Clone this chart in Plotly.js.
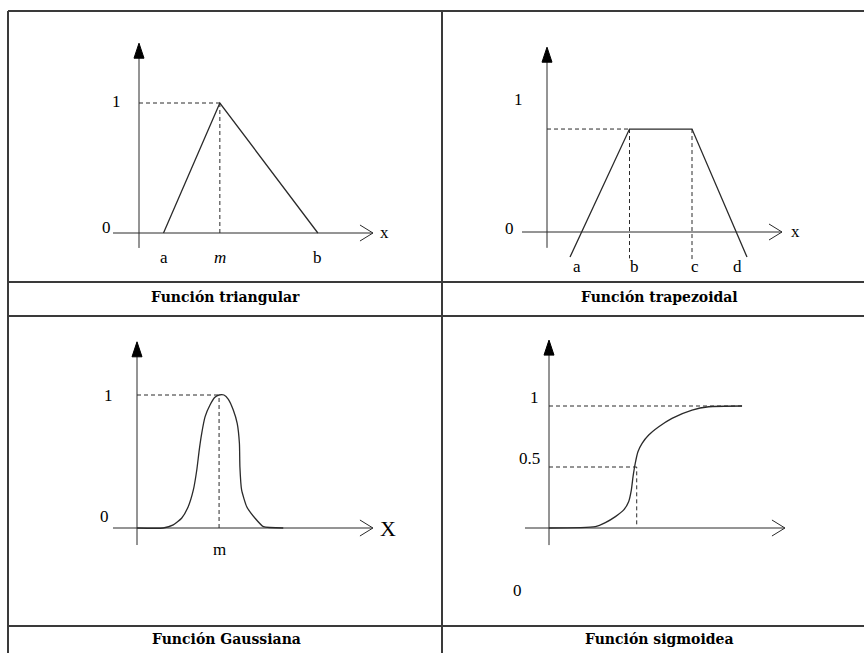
<!DOCTYPE html>
<html><head><meta charset="utf-8">
<script src="https://cdn.plot.ly/plotly-3.0.1.min.js"></script>
<style>html,body{margin:0;padding:0;background:#fff}#chart{width:864px;height:653px}</style>
</head><body><div id="chart"></div>
<script>
// ---------- data ----------
const triX = [1, 3.3, 7.3];            // a, m, b
const triY = [0, 1, 0];
const triLabels = ['a', '<i>m</i>', 'b'];

const trapX = [0.92, 3.3, 5.8, 8.0];
const trapY = [-0.19, 0.78, 0.78, -0.19];
const trapTickX = [1.2, 3.5, 5.9, 7.6];
const trapLabels = ['a', 'b', 'c', 'd'];

const gaussX = [0, 1.07, 1.48, 1.82, 2.09, 2.30, 2.44, 2.54, 2.64, 2.78, 2.98, 3.18, 3.35, 3.55, 3.73, 3.93, 4.09, 4.18, 4.20, 4.27, 4.48, 4.82, 5.16, 5.97];
const gaussY = [0, 0, 0.023, 0.073, 0.16, 0.286, 0.436, 0.586, 0.71, 0.837, 0.925, 0.983, 1.0, 1.0, 0.968, 0.887, 0.787, 0.637, 0.461, 0.286, 0.16, 0.073, 0.01, 0];
const gaussPeakX = 3.35;

const sigX = [0, 1.89, 2.30, 2.71, 3.05, 3.25, 3.36, 3.43, 3.52, 3.63, 3.80, 4.07, 4.48, 5.02, 5.84, 6.52, 7.88];
const sigY = [0, 0.011, 0.044, 0.093, 0.148, 0.216, 0.311, 0.421, 0.530, 0.625, 0.694, 0.762, 0.830, 0.899, 0.967, 0.994, 1.0];
const sigMidX = 3.58;
const sigMidY = 0.5;

const titles = ['Función triangular', 'Función trapezoidal', 'Función Gaussiana', 'Función sigmoidea'];

// ---------- layout geometry ----------
const W = 864, H = 653;
const panels = [
  {ox:139, oy:233, ux:24.5, uy:130, px0:8,   px1:442, py0:11,  py1:282, ax:[-1.06, 9.55], ay:[-0.115, 1.46]},
  {ox:547, oy:232, ux:25,   uy:132, px0:442, px1:864, py0:11,  py1:282, ax:[-1.0, 9.4],   ay:[-0.12, 1.40]},
  {ox:137, oy:528, ux:24.5, uy:133, px0:8,   px1:442, py0:316, py1:626, ax:[-0.98, 9.63], ay:[-0.128, 1.40]},
  {ox:549, oy:528, ux:24.5, uy:122, px0:442, px1:864, py0:316, py1:626, ax:[-0.98, 9.63], ay:[-0.14, 1.54]}
];
const LINE = '#2a2a2a', TABLE = '#3a3a3a';
const SERIF = '"Liberation Serif", "Times New Roman", serif';
const TSERIF = '"DejaVu Serif", serif';

const layout = {
  width: W, height: H, margin: {l:0, r:0, t:0, b:0},
  paper_bgcolor: '#fff', plot_bgcolor: 'rgba(0,0,0,0)',
  showlegend: false, shapes: [], annotations: []
};
panels.forEach((p, i) => {
  const s = i === 0 ? '' : String(i + 1);
  layout['xaxis' + s] = {domain: [p.px0 / W, p.px1 / W], range: [(p.px0 - p.ox) / p.ux, (p.px1 - p.ox) / p.ux],
    visible: false, fixedrange: true, anchor: 'y' + s};
  layout['yaxis' + s] = {domain: [1 - p.py1 / H, 1 - p.py0 / H], range: [(p.oy - p.py1) / p.uy, (p.oy - p.py0) / p.uy],
    visible: false, fixedrange: true, anchor: 'x' + s};
  const xr = 'x' + s, yr = 'y' + s;
  layout.shapes.push({type:'line', xref:xr, yref:yr, x0:p.ax[0], x1:p.ax[1], y0:0, y1:0, line:{color:LINE, width:1}});
  layout.shapes.push({type:'line', xref:xr, yref:yr, x0:0, x1:0, y0:p.ay[0], y1:p.ay[1] - 0.02, line:{color:LINE, width:1}});
  layout.shapes.push({type:'path', xref:xr, yref:yr, xsizemode:'pixel', ysizemode:'pixel', xanchor:p.ax[1], yanchor:0,
    path:'M-13,8 L0,0 L-13,-8', line:{color:LINE, width:1}});
  layout.shapes.push({type:'path', xref:xr, yref:yr, xsizemode:'pixel', ysizemode:'pixel', xanchor:0, yanchor:p.ay[1],
    path:'M-5,-15 L5,-15 L0,0 Z', line:{color:'#000', width:1}, fillcolor:'#000'});
});

function txt(s, x, y, text, size, extra) {
  layout.annotations.push(Object.assign({xref:'x' + s, yref:'y' + s, x:x, y:y, text:text, showarrow:false,
    xanchor:'center', yanchor:'middle', font:{family:SERIF, size:size || 17, color:'#000'}}, extra || {}));
}
txt('', -1.06, 0.04, '0', 17, {xanchor:'right'});
txt('', -0.9, 1.01, '1');
triX.forEach((x, k) => txt('', x, -0.19, triLabels[k]));
txt('', 10.04, 0.0, 'x');
txt('2', -1.52, 0.03, '0');
txt('2', -1.16, 1.0, '1');
trapTickX.forEach((x, k) => txt('2', x, -0.26, trapLabels[k]));
txt('2', 9.92, 0.0, 'x');
txt('3', -1.31, 0.083, '0');
txt('3', -1.18, 1.0, '1');
txt('3', gaussPeakX, -0.165, 'm');
txt('3', 10.24, 0.0, 'X', 22);
txt('4', -1.27, -0.51, '0');
txt('4', -0.61, 1.07, '1');
txt('4', -0.78, 0.57, '0.5');

// titles
const titlePos = [[225, 297], [659, 297], [226, 639], [659, 639]];
titles.forEach((t, k) => layout.annotations.push({xref:'paper', yref:'paper', x:titlePos[k][0] / W, y:1 - titlePos[k][1] / H,
  text:'<b>' + t + '</b>', showarrow:false, xanchor:'center', yanchor:'middle', font:{family:TSERIF, size:14, color:'#000'}}));

// table lines
function hl(y, x0, x1) { layout.shapes.push({type:'line', xref:'paper', yref:'paper', x0:x0 / W, x1:x1 / W, y0:1 - y / H, y1:1 - y / H, line:{color:TABLE, width:2}}); }
function vl(x, y0, y1) { layout.shapes.push({type:'line', xref:'paper', yref:'paper', x0:x / W, x1:x / W, y0:1 - y0 / H, y1:1 - y1 / H, line:{color:TABLE, width:2}}); }
hl(11, 8, 864); hl(282, 8, 864); hl(316, 8, 864); hl(626, 8, 864);
vl(8, 11, 653); vl(442, 11, 653);

// ---------- traces ----------
const dash = {color:LINE, width:1, dash:'4px,3px'};
const solid = {color:LINE, width:1.3};
const traces = [
  {x:[0, triX[1]], y:[triY[1], triY[1]], xaxis:'x', yaxis:'y', mode:'lines', line:dash},
  {x:[triX[1], triX[1]], y:[0, triY[1]], xaxis:'x', yaxis:'y', mode:'lines', line:dash},
  {x:triX, y:triY, xaxis:'x', yaxis:'y', mode:'lines', line:solid},
  {x:[0, trapX[1]], y:[trapY[1], trapY[1]], xaxis:'x2', yaxis:'y2', mode:'lines', line:dash},
  {x:[trapX[1], trapX[1]], y:[trapY[1], -0.2], xaxis:'x2', yaxis:'y2', mode:'lines', line:dash},
  {x:[trapX[2], trapX[2]], y:[trapY[2], -0.22], xaxis:'x2', yaxis:'y2', mode:'lines', line:dash},
  {x:trapX, y:trapY, xaxis:'x2', yaxis:'y2', mode:'lines', line:solid},
  {x:[0, gaussPeakX], y:[1, 1], xaxis:'x3', yaxis:'y3', mode:'lines', line:dash},
  {x:[gaussPeakX, gaussPeakX], y:[0, 1], xaxis:'x3', yaxis:'y3', mode:'lines', line:dash},
  {x:gaussX, y:gaussY, xaxis:'x3', yaxis:'y3', mode:'lines', line:Object.assign({shape:'spline', smoothing:0.5}, solid)},
  {x:[0, sigX[sigX.length - 1]], y:[1, 1], xaxis:'x4', yaxis:'y4', mode:'lines', line:dash},
  {x:[0, sigMidX], y:[sigMidY, sigMidY], xaxis:'x4', yaxis:'y4', mode:'lines', line:dash},
  {x:[sigMidX, sigMidX], y:[0.03, sigMidY], xaxis:'x4', yaxis:'y4', mode:'lines', line:dash},
  {x:sigX, y:sigY, xaxis:'x4', yaxis:'y4', mode:'lines', line:Object.assign({shape:'spline', smoothing:0.6}, solid)}
];
traces.forEach(t => { t.hoverinfo = 'skip'; });

Plotly.newPlot('chart', traces, layout, {staticPlot:true, displayModeBar:false});
</script>
</body></html>
